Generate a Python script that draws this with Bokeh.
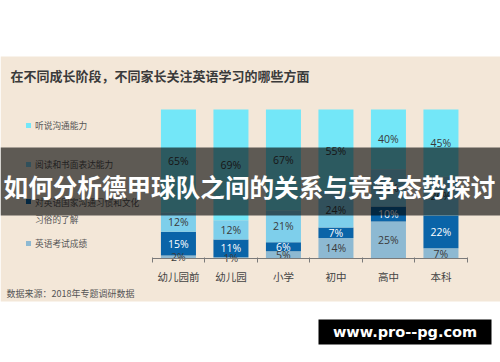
import numpy as np
from bokeh.plotting import figure
from bokeh.models import ColumnDataSource, Range1d, FixedTicker, BoxAnnotation, Label
from bokeh.core.properties import value
from bokeh.embed import file_html
from bokeh.resources import INLINE

# ---------------- data ----------------
categories = ["幼儿园前", "幼儿园", "小学", "初中", "高中", "本科"]
listening = [65, 69, 67, 55, 40, 45]   # 听说沟通能力
reading = [12, 12, 21, 24, 25, 26]     # 阅读和书面表达能力
culture = [15, 11, 6, 7, 10, 22]       # 对英语国家沟通习惯和文化习俗的了解
exam = [2, 1, 5, 14, 25, 7]            # 英语考试成绩
series_names = ["听说沟通能力", "阅读和书面表达能力", "对英语国家沟通习惯和文化习俗的了解", "英语考试成绩"]
title_text = "在不同成长阶段，不同家长关注英语学习的哪些方面"
source_text = "数据来源：2018年专题调研数据"
banner_text = "如何分析德甲球队之间的关系与竞争态势探讨"
watermark_text = "www.pro--pg.com"

# ---------------- style ----------------
BEIGE = "#F3E7D8"
C_LISTEN = "#73E7F8"
C_READ = "#7ECFEB"
C_CULT = "#0A64A8"
C_EXAM = "#8DB9D2"
CJK = "Noto Sans CJK SC"

W, H = 500, 362
OFF = 0  # page offset of the figure
# plot geometry in page pixels
X_LEFT, UX = 151.7, 52.5        # page x of first category boundary, px per category
Y_AXIS, Y_TOP = 258.3, 109.0    # page y of 0% and 100%
UY = Y_AXIS - Y_TOP

x0 = -(X_LEFT - OFF) / UX
x1 = x0 + W / UX
y0 = -((H + OFF) - Y_AXIS) / UY
y1 = y0 + H / UY


def sx(px):  # page x -> screen units (frame == canvas)
    return px - OFF


def sy(py):  # page y -> screen units (measured upward from bottom)
    return (H + OFF) - py


p = figure(width=W, height=H, x_range=Range1d(x0, x1), y_range=Range1d(y0, y1),
           output_backend="svg", toolbar_location=None, y_axis_location=None,
           title=None, min_border=0, min_border_left=0, min_border_right=0,
           min_border_top=0, min_border_bottom=0,
           background_fill_color="white", border_fill_color="white",
           outline_line_color=None)
p.grid.visible = False


def box(l, r, t, b, color, alpha=1.0, level="annotation"):
    p.add_layout(BoxAnnotation(left=sx(l), right=sx(r), top=sy(t), bottom=sy(b),
                               left_units="screen", right_units="screen",
                               top_units="screen", bottom_units="screen",
                               fill_color=color, fill_alpha=alpha, line_color=None,
                               level=level))


# beige panel
box(0, 500, 56, 301, BEIGE, level="underlay")

# ---------------- bars ----------------
vals = np.array([exam, culture, reading, listening], dtype=float)
norm = vals / vals.sum(axis=0)
xs = np.arange(len(categories)) + 0.5
src = ColumnDataSource(dict(x=xs, exam=norm[0], culture=norm[1],
                            reading=norm[2], listening=norm[3]))
p.vbar_stack(["exam", "culture", "reading", "listening"], x="x", width=0.667,
             color=[C_EXAM, C_CULT, C_READ, C_LISTEN], line_width=0, source=src)

cum = np.cumsum(norm, axis=0)
mid = cum - norm / 2
lx, ly, lt, lc = [], [], [], []
for i in range(4):
    for j in range(len(categories)):
        lx.append(xs[j])
        ly.append(mid[i, j])
        lt.append(f"{int(vals[i, j])}%")
        lc.append("white" if i == 1 else "#3a3a3a")
p.text(x="x", y="y", text="t", text_color="c",
       source=ColumnDataSource(dict(x=lx, y=ly, t=lt, c=lc)),
       text_align="center", text_baseline="middle",
       text_font=value("Open Sans"), text_font_size="10.5px")

# ---------------- axis ----------------
ax = p.xaxis[0]
ax.fixed_location = 0
ax.bounds = (0, len(categories))
ax.ticker = FixedTicker(ticks=[float(v) for v in xs], minor_ticks=list(range(len(categories) + 1)))
ax.major_label_overrides = {float(xs[j]): categories[j] for j in range(len(categories))}
ax.axis_line_color = "#7a7a7a"
ax.major_tick_line_color = None
ax.major_tick_out = 0
ax.major_tick_in = 0
ax.minor_tick_line_color = "#7a7a7a"
ax.minor_tick_out = 4
ax.minor_tick_in = 1
ax.major_label_text_font = CJK
ax.major_label_text_font_size = "10.5px"
ax.major_label_text_color = "#444444"
ax.major_label_standoff = 6


# ---------------- texts ----------------
def label(text, px, py, size, color, bold=False, align="left", font=CJK, level="annotation"):
    p.add_layout(Label(x=sx(px), y=sy(py), x_units="screen", y_units="screen",
                       text=text, text_font=font, text_font_size=size,
                       text_color=color, text_font_style="bold" if bold else "normal",
                       text_align=align, text_baseline="middle", level=level))


label(title_text, 10, 75, "13px", "#3a3a3a", bold=True)
label(source_text, 6, 293, "9px", "#555555")

# legend
leg_colors = [C_LISTEN, C_READ, C_CULT, C_EXAM]
leg_y = [125, 164, 201, 243]
for c, yy in zip(leg_colors, leg_y):
    box(25.5, 30.5, yy - 2.5, yy + 2.5, c)
label(series_names[0], 34.5, 125, "8.7px", "#555555")
label(series_names[1], 34.5, 164, "8.7px", "#555555")
label(series_names[2][:12], 34.5, 202, "8.7px", "#555555")
label(series_names[2][12:], 34.5, 218.5, "8.7px", "#555555")
label(series_names[3], 34.5, 243, "8.7px", "#555555")

# banner overlay
box(0, 500, 147, 215, "black", alpha=0.61, level="overlay")
label(banner_text, 249, 185, "24.6px", "white", bold=True, align="center", level="overlay")

# watermark
box(318, 491, 319, 344, "black", level="overlay")
label(watermark_text, 404.5, 331.5, "14.5px", "white", bold=True, align="center",
      font="DejaVu Sans", level="overlay")

open("out.html", "w").write(file_html(p, INLINE))
